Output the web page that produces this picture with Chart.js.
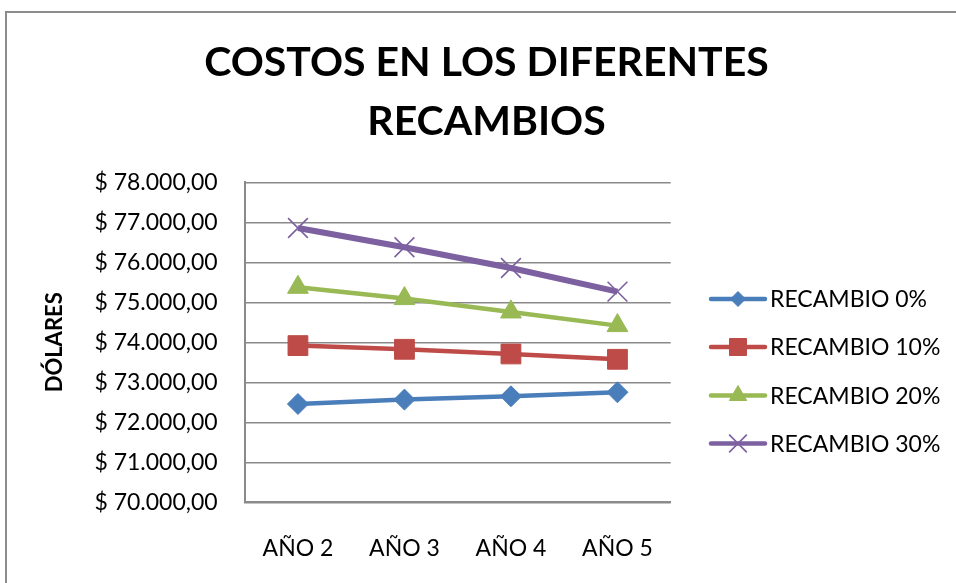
<!DOCTYPE html>
<html>
<head>
<meta charset="utf-8">
<script src="https://cdn.jsdelivr.net/npm/chart.js@4/dist/chart.umd.min.js"></script>
<style>
  html, body { margin: 0; padding: 0; background: #fff; overflow: hidden; width: 956px; height: 583px; }
  #frame { position: absolute; left: 5px; top: 11px; width: 2000px; height: 2000px; border: 2px solid #8c8c8c; box-sizing: border-box; }
  #c { position: absolute; left: 0; top: 0; }
</style>
</head>
<body>
<div id="frame"></div>
<canvas id="c" width="956" height="583"></canvas>
<script>
const categories = ['AÑO 2', 'AÑO 3', 'AÑO 4', 'AÑO 5'];
const recambio0  = [72458, 72567, 72650, 72750];
const recambio10 = [73917, 73825, 73708, 73575];
const recambio20 = [75375, 75092, 74758, 74417];
const recambio30 = [76858, 76375, 75858, 75267];
const seriesNames = ['RECAMBIO 0%', 'RECAMBIO 10%', 'RECAMBIO 20%', 'RECAMBIO 30%'];
const titleLines = ['COSTOS EN LOS DIFERENTES', 'RECAMBIOS'];
const yAxisTitle = 'DÓLARES';
const yMin = 70000, yMax = 78000, yStep = 1000;

const FONT = 'Lato';
const colors = ['#4A7EBB', '#BE4B48', '#98B954', '#7D60A0'];
const styles = ['rectRot', 'rect', 'triangle', 'crossRot'];
const radii = [10.5, 14, 12, 14];
const legendRadii = [7.5, 12, 10, 12.5];
const lineWidths = [4.5, 4.5, 4.5, 6];

function fmt(v) {
  const s = Math.round(v).toString().replace(/\B(?=(\d{3})+(?!\d))/g, '.');
  return '$ ' + s + ',00';
}

const seriesData = [recambio0, recambio10, recambio20, recambio30];
const datasets = seriesData.map((d, i) => ({
  label: seriesNames[i],
  data: d,
  borderColor: colors[i],
  backgroundColor: colors[i],
  borderWidth: lineWidths[i],
  pointStyle: styles[i],
  pointRadius: radii[i],
  pointHoverRadius: radii[i],
  pointBackgroundColor: colors[i],
  pointBorderColor: colors[i],
  pointBorderWidth: i === 3 ? 1.6 : 1,
  tension: 0,
  fill: false
}));

const legendPlugin = {
  id: 'customLegend',
  afterDraw(chart) {
    const ctx = chart.ctx;
    const x0 = 711, x1 = 765, tx = 770;
    const ys = [299, 347, 395.5, 443.5];
    chart.data.datasets.forEach((ds, i) => {
      const y = ys[i];
      ctx.save();
      ctx.strokeStyle = ds.borderColor;
      ctx.lineWidth = 4.5;
      ctx.lineCap = 'round';
      ctx.beginPath();
      ctx.moveTo(x0, y);
      ctx.lineTo(x1, y);
      ctx.stroke();
      ctx.fillStyle = ds.pointBackgroundColor;
      ctx.strokeStyle = ds.pointBorderColor;
      ctx.lineWidth = ds.pointBorderWidth;
      ctx.lineCap = 'butt';
      Chart.helpers.drawPoint(ctx, {pointStyle: ds.pointStyle, radius: legendRadii[i], borderWidth: ds.pointBorderWidth, rotation: 0}, (x0 + x1) / 2, y);
      ctx.fillStyle = '#000';
      ctx.font = '23px ' + FONT;
      ctx.textAlign = 'left';
      ctx.textBaseline = 'middle';
      ctx.fillText(ds.label, tx, y + 1);
      ctx.restore();
    });
  }
};

new Chart(document.getElementById('c'), {
  type: 'line',
  data: { labels: categories, datasets },
  plugins: [legendPlugin],
  options: {
    responsive: false,
    devicePixelRatio: 1,
    animation: false,
    layout: { padding: { top: 0, left: 17, right: 0, bottom: 0 } },
    plugins: {
      legend: { display: false },
      tooltip: { enabled: false },
      title: {
        display: true,
        text: titleLines,
        color: '#000',
        font: { family: FONT, size: 41, weight: 'bold', lineHeight: 1.44 },
        padding: { top: 33, bottom: 31.2 }
      }
    },
    scales: {
      x: {
        offset: true,
        grid: { display: false, drawTicks: false },
        border: { display: true, color: '#8a8a8a', width: 2 },
        ticks: { color: '#000', font: { family: FONT, size: 23 }, padding: 32, maxRotation: 0 },
        afterFit(scale) { scale.height = 80.7; }
      },
      y: {
        min: yMin, max: yMax,
        grid: { color: '#8a8a8a', lineWidth: 1.5, drawTicks: false },
        border: { display: true, color: '#8a8a8a', width: 2 },
        ticks: { stepSize: yStep, color: '#000', font: { family: FONT, size: 23 }, padding: 27, callback: (v) => fmt(v) },
        title: { display: true, text: yAxisTitle, color: '#000', font: { family: FONT, size: 22, weight: 'bold' }, padding: { top: 25, bottom: 0 } },
        afterFit(scale) { scale.width = 227.7; }
      },
      legendSpace: {
        type: 'linear',
        position: 'right',
        display: true,
        grid: { display: false, drawTicks: false },
        border: { display: false },
        ticks: { display: false },
        afterFit(scale) { scale.width = 285.3; }
      }
    }
  }
});
</script>
</body>
</html>
